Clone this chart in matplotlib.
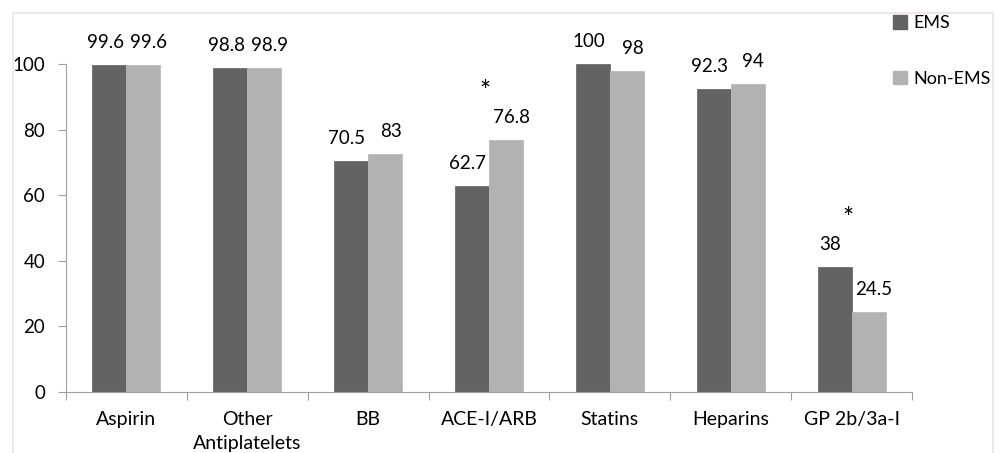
import numpy as np
import matplotlib
matplotlib.use("Agg")
import matplotlib.pyplot as plt
from matplotlib.patches import Rectangle, Patch
from matplotlib.ticker import FixedLocator

plt.rcParams['font.family'] = ['Lato', 'DejaVu Sans']

categories = ['Aspirin', 'Other\nAntiplatelets', 'BB', 'ACE-I/ARB', 'Statins', 'Heparins', 'GP 2b/3a-I']
ems = [99.6, 98.8, 70.5, 62.7, 100, 92.3, 38]
non_ems = [99.6, 98.9, 72.5, 76.8, 98, 94, 24.5]
ems_labels = ['99.6', '98.8', '70.5', '62.7', '100', '92.3', '38']
non_ems_labels = ['99.6', '98.9', '83', '76.8', '98', '94', '24.5']
significant = ['ACE-I/ARB', 'GP 2b/3a-I']

c_ems = '#636363'
c_non = '#b2b2b2'

fig = plt.figure(figsize=(10.08, 4.53), dpi=100)
fig.patches.append(Rectangle((13/1008, -0.05), 980/1008, 1.05 - 13/453,
                             transform=fig.transFigure, fill=False,
                             edgecolor='#efe8e8', lw=1.5))
ax = fig.add_axes([66/1008, 61/453, 846/1008, 360.8/453])

x = np.arange(len(categories))
w = 0.281
ax.bar(x - w/2, ems, w, color=c_ems, edgecolor='#6c6c6c', lw=0.6, label='EMS')
ax.bar(x + w/2, non_ems, w, color=c_non, edgecolor='#bababa', lw=0.6, label='Non-EMS')

for i in range(len(categories)):
    ax.annotate(ems_labels[i], (x[i] - w/2, ems[i]), xytext=(-3, 10),
                textcoords='offset points', ha='center', va='bottom', fontsize=13.5)
    ax.annotate(non_ems_labels[i], (x[i] + w/2, non_ems[i]), xytext=(4, 10),
                textcoords='offset points', ha='center', va='bottom', fontsize=13.5)
    if categories[i] in significant:
        top = max(ems[i], non_ems[i])
        ax.text(x[i] - 0.03, top + 14.5, '*', ha='center', va='center', fontsize=19)

ax.set_xlim(-0.5, len(categories) - 0.5)
ax.set_ylim(0, 110)
ax.set_yticks([0, 20, 40, 60, 80, 100])
ax.spines['left'].set_bounds(0, 100)

ax.xaxis.set_major_locator(FixedLocator(np.arange(-0.5, len(categories), 1.0)))
ax.xaxis.set_minor_locator(FixedLocator(x))
ax.set_xticklabels([])
ax.set_xticklabels(categories, minor=True, fontsize=14, linespacing=1.45, va='top')
ax.tick_params(axis='x', which='major', length=6, color='#a0a0a0')
ax.tick_params(axis='x', which='minor', length=0, pad=14)
ax.tick_params(axis='y', length=6, color='#a0a0a0', labelsize=13.5, pad=9)

for s in ['top', 'right']:
    ax.spines[s].set_visible(False)
for s in ['left', 'bottom']:
    ax.spines[s].set_color('#a0a0a0')

handles = [Patch(color=c_ems, label='EMS'), Patch(color=c_non, label='Non-EMS')]
fig.legend(handles=handles, loc='upper left', bbox_to_anchor=(886/1008, 1 - 8/453),
           frameon=False, fontsize=13, handlelength=0.75, handleheight=0.75,
           handletextpad=0.35, labelspacing=2.2, borderaxespad=0)

fig.savefig('out.png', dpi=100)
